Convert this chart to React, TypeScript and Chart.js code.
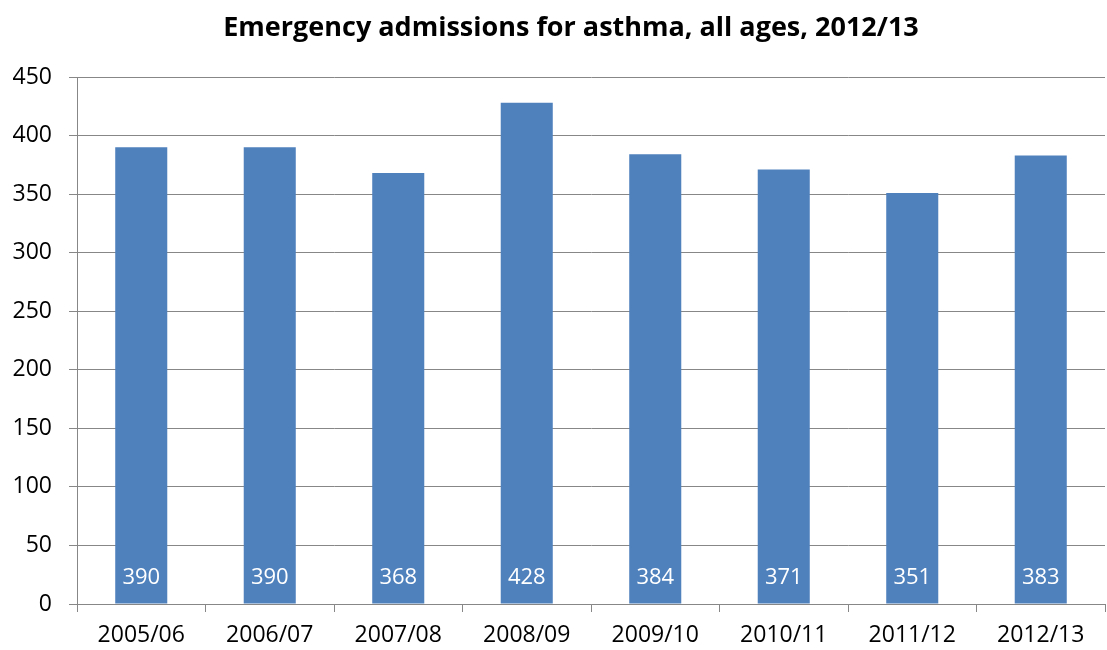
import React, { useEffect, useRef } from "react";
import { Chart, registerables } from "chart.js";

Chart.register(...registerables);

const categories = ["2005/06", "2006/07", "2007/08", "2008/09", "2009/10", "2010/11", "2011/12", "2012/13"];
const admissions = [390, 390, 368, 428, 384, 371, 351, 383];
const titleText = "Emergency admissions for asthma, all ages, 2012/13";

const FONT = "'Open Sans', Lato, sans-serif";

const barLabels = {
  id: "barLabels",
  afterDatasetsDraw(chart: any) {
    const ctx = chart.ctx;
    const meta = chart.getDatasetMeta(0);
    const yScale = chart.scales.y;
    const base = yScale.getPixelForValue(0);
    ctx.save();
    ctx.fillStyle = "#ffffff";
    ctx.font = `22px ${FONT}`;
    ctx.textAlign = "center";
    ctx.textBaseline = "middle";
    meta.data.forEach((el: any, i: number) => {
      ctx.fillText(String(admissions[i]), el.x, base - 26);
    });
    ctx.restore();
  },
};

const titleDraw = {
  id: "titleDraw",
  afterDraw(chart: any) {
    const ctx = chart.ctx;
    ctx.save();
    ctx.fillStyle = "#000000";
    ctx.font = `bold 27px ${FONT}`;
    ctx.textAlign = "center";
    ctx.textBaseline = "alphabetic";
    ctx.fillText(titleText, 571, 36);
    ctx.restore();
  },
};

export default function App() {
  const ref = useRef<HTMLCanvasElement>(null);
  useEffect(() => {
    document.body.style.margin = "0";
    const chart = new Chart(ref.current!, {
      type: "bar",
      data: {
        labels: categories,
        datasets: [
          {
            data: admissions,
            backgroundColor: "#4F81BD",
            categoryPercentage: 1,
            barPercentage: 0.405,
          },
        ],
      },
      options: {
        animation: false,
        responsive: false,
        maintainAspectRatio: false,
        layout: { padding: { left: 0, right: 2, top: 77, bottom: 0 } },
        plugins: {
          legend: { display: false },
          tooltip: { enabled: false },
          title: { display: false },
        },
        scales: {
          x: {
            offset: true,
            grid: {
              offset: true,
              drawOnChartArea: false,
              drawTicks: true,
              tickLength: 8,
              color: "#878787",
            },
            border: { color: "#878787" },
            ticks: {
              color: "#000",
              font: { family: FONT, size: 23 },
              padding: 10,
              maxRotation: 0,
            },
            afterFit: (scale: any) => {
              scale.height = 46;
            },
          },
          y: {
            min: 0,
            max: 450,
            ticks: {
              stepSize: 50,
              color: "#000",
              font: { family: FONT, size: 23 },
              padding: 17,
            },
            grid: { color: "#878787", tickLength: 8 },
            border: { color: "#878787" },
            afterFit: (scale: any) => {
              scale.width = 77;
            },
          },
        },
      },
      plugins: [barLabels, titleDraw],
    });
    return () => chart.destroy();
  }, []);
  return (
    <div style={{ width: 1107, height: 650 }}>
      <canvas ref={ref} width={1107} height={650} style={{ display: "block" }} />
    </div>
  );
}
